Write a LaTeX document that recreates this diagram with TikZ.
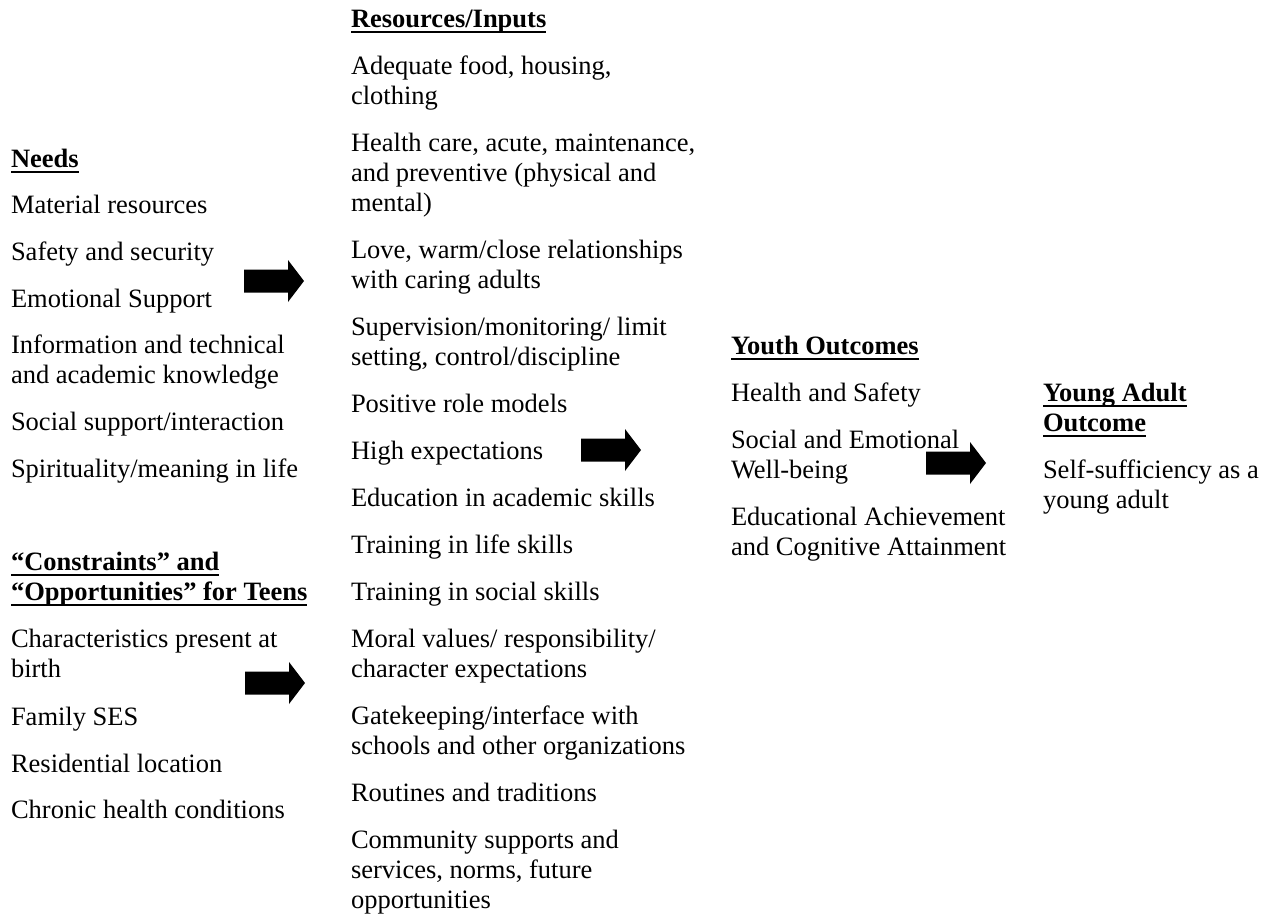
\documentclass[tikz,border=0pt]{standalone}
\usepackage{fontspec}
\setmainfont{Liberation Serif}
\newcommand{\ulhead}[1]{\leavevmode\setbox0\hbox{\bfseries #1}\rlap{\rule[-3.2pt]{\wd0}{1.4pt}}\box0}
\begin{document}
\begin{tikzpicture}[x=0.5pt,y=-0.5pt,
  item/.style={anchor=north west,inner sep=0pt,outer sep=0pt,text width=#1,align=flush left,
    font=\fontsize{13.25}{15}\selectfont,execute at begin node=\strut},
  item/.default=180pt,
  blockarrow/.pic={\fill (0,-11.5) -- (44,-11.5) -- (44,-21) -- (60,0) -- (44,21) -- (44,11.5) -- (0,11.5) -- cycle;}]
\useasboundingbox (0,0) rectangle (1274,917);
% needs and constraints
\node[item] (needs) at (11,146) {\ulhead{Needs}};
\node[item] (matres) at (11,192) {Material resources};
\node[item] (safety) at (11,239) {Safety and security};
\node[item] (emosup) at (11,286) {Emotional Support};
\node[item] (info) at (11,332) {Information and technical\\and academic knowledge};
\node[item] (socsup) at (11,409) {Social support/interaction};
\node[item] (spirit) at (11,456) {Spirituality/meaning in life};
\node[item] (constr) at (11,549) {\ulhead{“Constraints” and}\\\ulhead{“Opportunities” for Teens}};
\node[item] (charbirth) at (11,626) {Characteristics present at\\birth};
\node[item] (famses) at (11,704) {Family SES};
\node[item] (resloc) at (11,751) {Residential location};
\node[item] (chronic) at (11,797) {Chronic health conditions};
% resources
\node[item] (resin) at (351,6) {\ulhead{Resources/Inputs}};
\node[item] (food) at (351,53) {Adequate food, housing,\\clothing};
\node[item] (health) at (351,130) {Health care, acute, maintenance,\\and preventive (physical and\\mental)};
\node[item] (love) at (351,237) {Love, warm/close relationships\\with caring adults};
\node[item] (superv) at (351,314) {Supervision/monitoring/ limit\\setting, control/discipline};
\node[item] (rolemod) at (351,391) {Positive role models};
\node[item] (highexp) at (351,438) {High expectations};
\node[item] (educ) at (351,485) {Education in academic skills};
\node[item] (lifesk) at (351,532) {Training in life skills};
\node[item] (socsk) at (351,579) {Training in social skills};
\node[item] (moral) at (351,626) {Moral values/ responsibility/\\character expectations};
\node[item] (gatekeep) at (351,703) {Gatekeeping/interface with\\schools and other organizations};
\node[item] (routines) at (351,780) {Routines and traditions};
\node[item] (community) at (351,827) {Community supports and\\services, norms, future\\opportunities};
% outcomes
\node[item] (youth) at (731,333) {\ulhead{Youth Outcomes}};
\node[item] (hsafe) at (731,380) {Health and Safety};
\node[item] (socemo) at (731,427) {Social and Emotional\\Well-being};
\node[item] (eduach) at (731,504) {Educational Achievement\\and Cognitive Attainment};
\node[item=120pt] (adult) at (1043,380) {\ulhead{Young Adult}\\\ulhead{Outcome}};
\node[item=120pt] (selfsuff) at (1043,457) {Self-sufficiency as a\\young adult};
% block arrows
\pic (arrneeds) at (244,281) {blockarrow};
\pic (arrconstr) at (245,683) {blockarrow};
\pic (arrres) at (581,450) {blockarrow};
\pic (arryouth) at (926,463) {blockarrow};
\end{tikzpicture}
\end{document}
